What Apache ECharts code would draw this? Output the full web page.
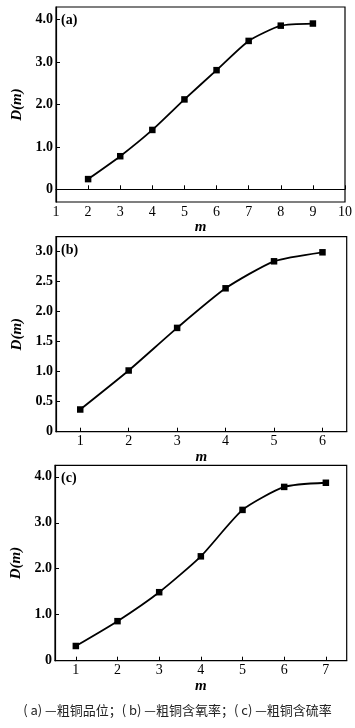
<!DOCTYPE html>
<html><head><meta charset="utf-8">
<script src="https://cdn.jsdelivr.net/npm/echarts@6/dist/echarts.min.js"></script>
<style>html,body{margin:0;padding:0;background:#fff}#c{width:355px;height:728px}</style>
</head><body><div id="c"></div>
<script>
// Panel (a)
var mA = [2, 3, 4, 5, 6, 7, 8, 9];
var dA = [0.24, 0.78, 1.40, 2.12, 2.81, 3.50, 3.86, 3.91];
var xTicksA = [1, 2, 3, 4, 5, 6, 7, 8, 9, 10];
var yTicksA = [0, 1, 2, 3, 4];
// Panel (b)
var mB = [1, 2, 3, 4, 5, 6];
var dB = [0.37, 1.02, 1.73, 2.39, 2.84, 2.99];
var xTicksB = [1, 2, 3, 4, 5, 6];
var yTicksB = [0, 0.5, 1.0, 1.5, 2.0, 2.5, 3.0];
// Panel (c)
var mC = [1, 2, 3, 4, 5, 6, 7];
var dC = [0.32, 0.86, 1.49, 2.27, 3.28, 3.78, 3.87];
var xTicksC = [1, 2, 3, 4, 5, 6, 7];
var yTicksC = [0, 1, 2, 3, 4];
var panelLabels = ['(a)', '(b)', '(c)'];
var caption = '( a) —粗铜品位；( b) —粗铜含氧率；( c) —粗铜含硫率';

var serif = 'Liberation Serif';
var grids = [
  {left: 56, top: 7, width: 291.5, height: 195},
  {left: 56, top: 236.7, width: 290.7, height: 195},
  {left: 55, top: 465.3, width: 291.7, height: 195.4}
];
var xr = [[1, 10], [0.5, 6.5], [0.5, 7.5]];
var yr = [[-0.3, 4.3], [0, 3.25], [0, 4.25]];
var xt = [xTicksA, xTicksB, xTicksC];
var yt = [yTicksA, yTicksB, yTicksC];
var series = [[mA, dA], [mB, dB], [mC, dC]];

function yfmt(v) { return v === 0 ? '0' : v.toFixed(1); }

var option = {
  animation: false,
  backgroundColor: '#fff',
  grid: grids.map(function (g) {
    return Object.assign({show: true, borderColor: '#000', borderWidth: 1.2, backgroundColor: 'transparent'}, g);
  }),
  xAxis: grids.map(function (g, i) {
    return {
      type: 'value', gridIndex: i, min: xr[i][0], max: xr[i][1],
      name: 'm', nameLocation: 'middle', nameGap: 15,
      nameTextStyle: {fontFamily: serif, fontStyle: 'italic', fontWeight: 'bold', fontSize: 15, color: '#000'},
      axisLine: {show: true, lineStyle: {color: '#000', width: 1.2}},
      axisTick: {show: true, inside: true, length: 4, customValues: xt[i], lineStyle: {color: '#000', width: 1}},
      axisLabel: {customValues: xt[i], fontFamily: serif, fontSize: 14, color: '#000', margin: 3},
      splitLine: {show: false}
    };
  }),
  yAxis: grids.map(function (g, i) {
    return {
      type: 'value', gridIndex: i, min: yr[i][0], max: yr[i][1],
      name: 'D(m)', nameLocation: 'middle', nameGap: 31, nameRotate: 90,
      nameTextStyle: {fontFamily: serif, fontStyle: 'italic', fontWeight: 'bold', fontSize: 15, color: '#000'},
      axisLine: {show: true, lineStyle: {color: '#000', width: 1.2}},
      axisTick: {show: true, inside: true, length: 4, customValues: yt[i], lineStyle: {color: '#000', width: 1}},
      axisLabel: {customValues: yt[i], formatter: yfmt, fontFamily: serif, fontWeight: 'bold', fontSize: 14, color: '#000', margin: 3},
      splitLine: {show: false}
    };
  }),
  series: series.map(function (s, i) {
    return {
      type: 'line', xAxisIndex: i, yAxisIndex: i,
      data: s[0].map(function (x, k) { return [x, s[1][k]]; }),
      smooth: 0.2,
      symbol: 'rect', symbolSize: 6.5, showSymbol: true,
      lineStyle: {color: '#000', width: 1.8},
      itemStyle: {color: '#000'}
    };
  }),
  graphic: panelLabels.map(function (t, i) {
    var topY = [13, 243, 471][i];
    return {type: 'text', left: 61, top: topY, style: {text: t, fontFamily: serif, fontWeight: 'bold', fontSize: 14, fill: '#000'}};
  }).concat([{
    type: 'text', left: 'center', top: 704,
    style: {text: caption, fontFamily: 'Noto Sans CJK SC', fontSize: 13, fill: '#222'}
  }])
};
var chart = echarts.init(document.getElementById('c'), null, {renderer: 'canvas'});
chart.setOption(option);
</script></body></html>
